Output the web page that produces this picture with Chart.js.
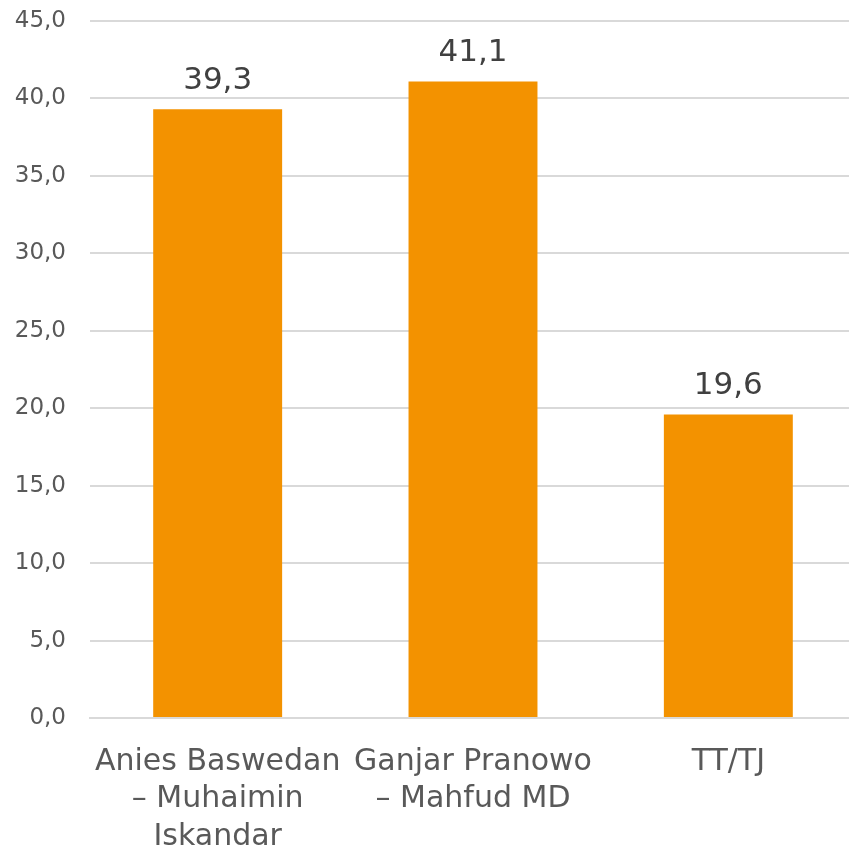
<!DOCTYPE html>
<html>
<head>
<meta charset="utf-8">
<script src="https://cdn.jsdelivr.net/npm/chart.js@4/dist/chart.umd.min.js"></script>
<style>
  html, body { margin: 0; padding: 0; background: #fff; overflow: hidden; }
  #wrap { position: relative; width: 856px; height: 852px; }
</style>
</head>
<body>
<div id="wrap"><canvas id="chart"></canvas></div>
<script>
// data
const categories = [
    ['Anies Baswedan', '– Muhaimin', 'Iskandar'],
    ['Ganjar Pranowo', '– Mahfud MD'],
    ['TT/TJ']
];
const values = [39.3, 41.1, 19.6];
const yTicks = [0, 5, 10, 15, 20, 25, 30, 35, 40, 45];

const FONT = '"DejaVu Sans", sans-serif';
const fmt = v => v.toFixed(1).replace('.', ',');

// labels above the bars
const valueLabels = {
    id: 'valueLabels',
    afterDatasetsDraw(chart) {
        const ctx = chart.ctx;
        const meta = chart.getDatasetMeta(0);
        ctx.save();
        ctx.font = '31px ' + FONT;
        ctx.fillStyle = '#404040';
        ctx.textAlign = 'center';
        ctx.textBaseline = 'alphabetic';
        meta.data.forEach((bar, i) => {
            ctx.fillText(fmt(values[i]), bar.x, bar.y - 20);
        });
        ctx.restore();
    }
};

const ctx = document.getElementById('chart').getContext('2d');
new Chart(ctx, {
    type: 'bar',
    data: {
        labels: categories,
        datasets: [{
            data: values,
            backgroundColor: '#F39200',
            borderWidth: 0,
            categoryPercentage: 1,
            barPercentage: 0.505
        }]
    },
    options: {
        responsive: true,
        maintainAspectRatio: false,
        animation: false,
        layout: { padding: { top: 0, left: 0, right: 0, bottom: 0 } },
        plugins: {
            legend: { display: false },
            tooltip: { enabled: false }
        },
        scales: {
            x: {
                grid: { display: false, drawTicks: false },
                border: { display: true, color: '#d9d9d9', width: 2 },
                ticks: {
                    color: '#595959',
                    font: { family: FONT, size: 30, lineHeight: 1.25 },
                    padding: 25,
                    maxRotation: 0,
                    minRotation: 0,
                    autoSkip: false
                },
                afterFit(scale) { scale.height = 134; }
            },
            y: {
                min: 0,
                max: 45,
                afterBuildTicks(scale) { scale.ticks = yTicks.map(v => ({ value: v })); },
                grid: { color: '#d9d9d9', lineWidth: 2, drawTicks: false },
                border: { display: false },
                ticks: {
                    color: '#595959',
                    font: { family: FONT, size: 23 },
                    padding: 24,
                    callback: v => fmt(v)
                },
                afterFit(scale) {
                    scale.width = 90;
                    scale.paddingTop = 21;
                }
            }
        }
    },
    plugins: [valueLabels]
});
</script>
</body>
</html>
